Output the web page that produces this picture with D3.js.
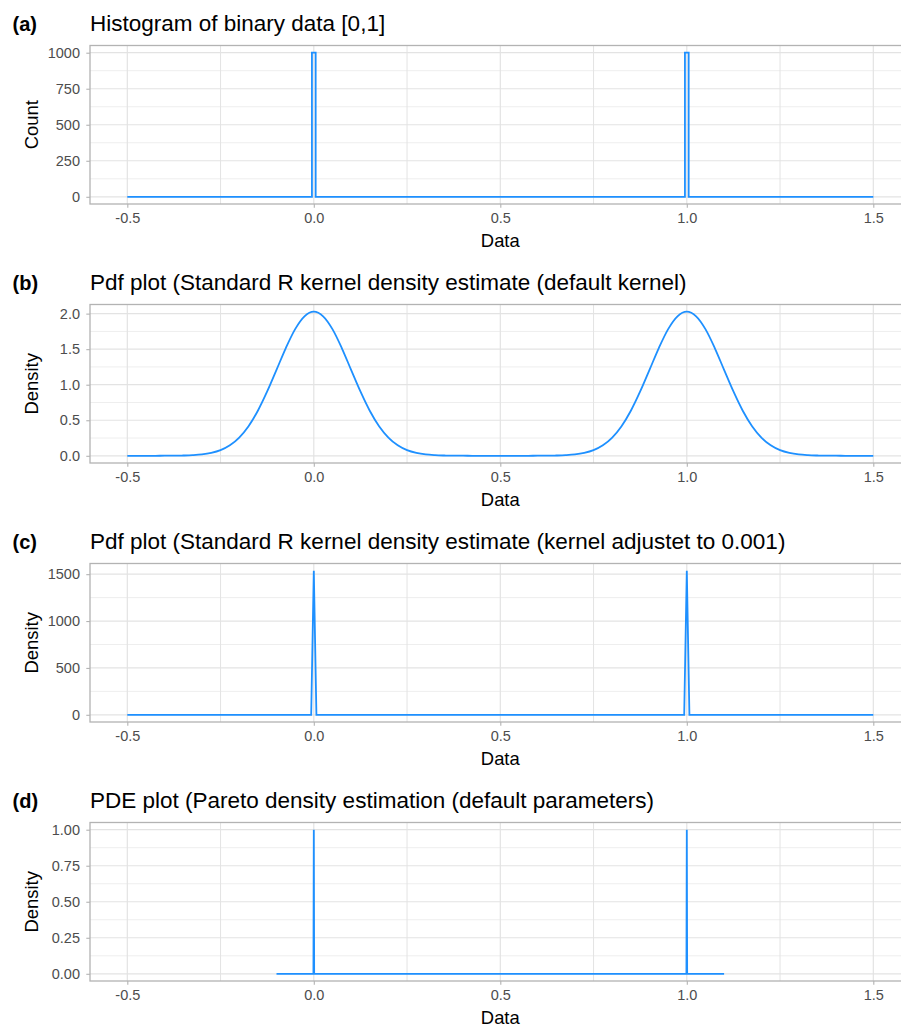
<!DOCTYPE html>
<html>
<head>
<meta charset="utf-8">
<script src="https://cdn.jsdelivr.net/npm/d3@7"></script>
<style>
  body { margin: 0; background: #fff; }
  svg { display: block; font-family: "Liberation Sans", Arial, sans-serif; }
</style>
</head>
<body>
<svg id="chart"></svg>
<script>
// x axis, shared by all four panels
var xTicks = [-0.5, 0, 0.5, 1, 1.5];
var xMinor = [-0.25, 0.25, 0.75, 1.25];

// (a) histogram of binary data
var histCenters = [0, 1];
var histCounts = [1000, 1000];
var histWidth = 0.01;
var histRange = [-0.5, 1.5];

// (b) default kernel density
var densX = [-0.5, -0.475, -0.45, -0.425, -0.4, -0.375, -0.35, -0.325, -0.3, -0.275, -0.25, -0.225,
  -0.2, -0.175, -0.15, -0.125, -0.1, -0.075, -0.05, -0.025, 0, 0.025, 0.05, 0.075, 0.1, 0.125,
  0.15, 0.175, 0.2, 0.225, 0.25, 0.275, 0.3, 0.325, 0.35, 0.375, 0.4, 0.425, 0.45, 0.475, 0.5,
  0.525, 0.55, 0.575, 0.6, 0.625, 0.65, 0.675, 0.7, 0.725, 0.75, 0.775, 0.8, 0.825, 0.85, 0.875,
  0.9, 0.925, 0.95, 0.975, 1, 1.025, 1.05, 1.075, 1.1, 1.125, 1.15, 1.175, 1.2, 1.225, 1.25,
  1.275, 1.3, 1.325, 1.35, 1.375, 1.4, 1.425, 1.45, 1.475, 1.5];
var densY = [0, 0, 0, 0,
  0.001, 0.001, 0.004, 0.009, 0.019, 0.041, 0.080, 0.148, 0.257, 0.417, 0.634, 0.905, 1.209,
  1.516, 1.782, 1.962, 2.027, 1.962, 1.782, 1.516, 1.209, 0.905, 0.634, 0.417, 0.257, 0.148,
  0.080, 0.041, 0.019, 0.009, 0.004, 0.001, 0.001,
  0, 0, 0, 0, 0, 0, 0,
  0.001, 0.001, 0.004, 0.009, 0.019, 0.041, 0.080, 0.148, 0.257, 0.417, 0.634, 0.905, 1.209,
  1.516, 1.782, 1.962, 2.027, 1.962, 1.782, 1.516, 1.209, 0.905, 0.634, 0.417, 0.257, 0.148,
  0.080, 0.041, 0.019, 0.009, 0.004, 0.001, 0.001,
  0, 0, 0, 0];

// (c) kernel adjusted to 0.001
var narrowX = [-0.5, -0.007, 0, 0.007, 0.993, 1, 1.007, 1.5];
var narrowY = [0, 0, 1537, 0, 0, 1537, 0, 0];

// (d) Pareto density estimation
var pdeX = [-0.1, -0.001, 0, 0.001, 0.999, 1, 1.001, 1.1];
var pdeY = [0, 0, 1, 0, 0, 1, 0, 0];

// y ticks per panel
var yTicksA = [0, 250, 500, 750, 1000], yMinorA = [125, 375, 625, 875];
var yTicksB = [0, 0.5, 1, 1.5, 2], yMinorB = [0.25, 0.75, 1.25, 1.75];
var yTicksC = [0, 500, 1000, 1500], yMinorC = [250, 750, 1250];
var yTicksD = [0, 0.25, 0.5, 0.75, 1], yMinorD = [0.125, 0.375, 0.625, 0.875];

var tags = ["(a)", "(b)", "(c)", "(d)"];
var titles = [
  "Histogram of binary data [0,1]",
  "Pdf plot (Standard R kernel density estimate (default kernel)",
  "Pdf plot (Standard R kernel density estimate (kernel adjustet to 0.001)",
  "PDE plot (Pareto density estimation (default parameters)"
];
var yTitles = ["Count", "Density", "Density", "Density"];

// histogram outline from bins
var histPts = [[histRange[0], 0]];
histCenters.forEach(function(c, i) {
  histPts.push([c - histWidth / 2, 0], [c - histWidth / 2, histCounts[i]],
               [c + histWidth / 2, histCounts[i]], [c + histWidth / 2, 0]);
});
histPts.push([histRange[1], 0]);

function zipXY(xs, ys) { return xs.map(function(x, i) { return [x, ys[i]]; }); }

var panels = [
  { pts: histPts, ticks: yTicksA, minor: yMinorA, fmt: function(d) { return String(d); }, curve: d3.curveLinear },
  { pts: zipXY(densX, densY), ticks: yTicksB, minor: yMinorB, fmt: function(d) { return d.toFixed(1); }, curve: d3.curveMonotoneX },
  { pts: zipXY(narrowX, narrowY), ticks: yTicksC, minor: yMinorC, fmt: function(d) { return String(d); }, curve: d3.curveLinear },
  { pts: zipXY(pdeX, pdeY), ticks: yTicksD, minor: yMinorD, fmt: function(d) { return d.toFixed(2); }, curve: d3.curveLinear }
];

var W = 901, H = 1027;
var left = 90, right = 910.6;
var panelH = 158.5, firstTop = 45.5, step = 259;
var blue = "#1E90FF", border = "#b3b3b3", grid = "#e3e3e3", gridMinor = "#eeeeee";

var svg = d3.select("#chart").attr("width", W).attr("height", H);

var x = d3.scaleLinear().domain([-0.6, 1.6]).range([left, right]);

panels.forEach(function(p, i) {
  var top = firstTop + i * step, bottom = top + panelH;
  var ymax = d3.max(p.pts, function(d) { return d[1]; });
  var y = d3.scaleLinear().domain([-0.05 * ymax, 1.05 * ymax]).range([bottom, top]);
  var g = svg.append("g");

  // grid
  g.selectAll(".ym").data(p.minor).enter().append("line")
    .attr("x1", left).attr("x2", right).attr("y1", y).attr("y2", y)
    .attr("stroke", gridMinor).attr("stroke-width", 1);
  g.selectAll(".xm").data(xMinor).enter().append("line")
    .attr("y1", top).attr("y2", bottom).attr("x1", x).attr("x2", x)
    .attr("stroke", grid).attr("stroke-width", 1);
  g.selectAll(".yM").data(p.ticks).enter().append("line")
    .attr("x1", left).attr("x2", right).attr("y1", y).attr("y2", y)
    .attr("stroke", grid).attr("stroke-width", 1.2);
  g.selectAll(".xM").data(xTicks).enter().append("line")
    .attr("y1", top).attr("y2", bottom).attr("x1", x).attr("x2", x)
    .attr("stroke", grid).attr("stroke-width", 1.2);

  // data line
  g.append("path")
    .datum(p.pts)
    .attr("fill", "none")
    .attr("stroke", blue)
    .attr("stroke-width", 1.8)
    .attr("d", d3.line().x(function(d) { return x(d[0]); }).y(function(d) { return y(d[1]); }).curve(p.curve));

  // panel border
  g.append("rect")
    .attr("x", left).attr("y", top).attr("width", right - left).attr("height", panelH)
    .attr("fill", "none").attr("stroke", border).attr("stroke-width", 1.3);

  // axes
  var ax = g.append("g").attr("transform", "translate(0," + bottom + ")")
    .call(d3.axisBottom(x).tickValues(xTicks).tickSize(3.7).tickPadding(5.3)
      .tickFormat(function(d) { return d.toFixed(1); }));
  var ay = g.append("g").attr("transform", "translate(" + left + ",0)")
    .call(d3.axisLeft(y).tickValues(p.ticks).tickSize(3.7).tickPadding(6.3).tickFormat(p.fmt));
  [ax, ay].forEach(function(a) {
    a.select(".domain").remove();
    a.selectAll(".tick line").attr("stroke", border).attr("stroke-width", 1.1);
    a.selectAll(".tick text").attr("fill", "#4d4d4d")
      .style("font-size", "14.5px").style("font-family", "Liberation Sans, Arial, sans-serif");
  });

  // axis titles
  g.append("text")
    .attr("x", (left + right) / 2).attr("y", bottom + 42.5)
    .attr("text-anchor", "middle").style("font-size", "18.4px").text("Data");
  g.append("text")
    .attr("transform", "translate(37.5," + (top + panelH / 2) + ") rotate(-90)")
    .attr("text-anchor", "middle").style("font-size", "18.4px").text(yTitles[i]);

  // tag and title
  g.append("text")
    .attr("x", 12.5).attr("y", top - 14.5)
    .style("font-size", "20px").style("font-weight", "bold").text(tags[i]);
  g.append("text")
    .attr("x", left).attr("y", top - 14.5)
    .style("font-size", "22.5px").text(titles[i]);
});
</script>
</body>
</html>
